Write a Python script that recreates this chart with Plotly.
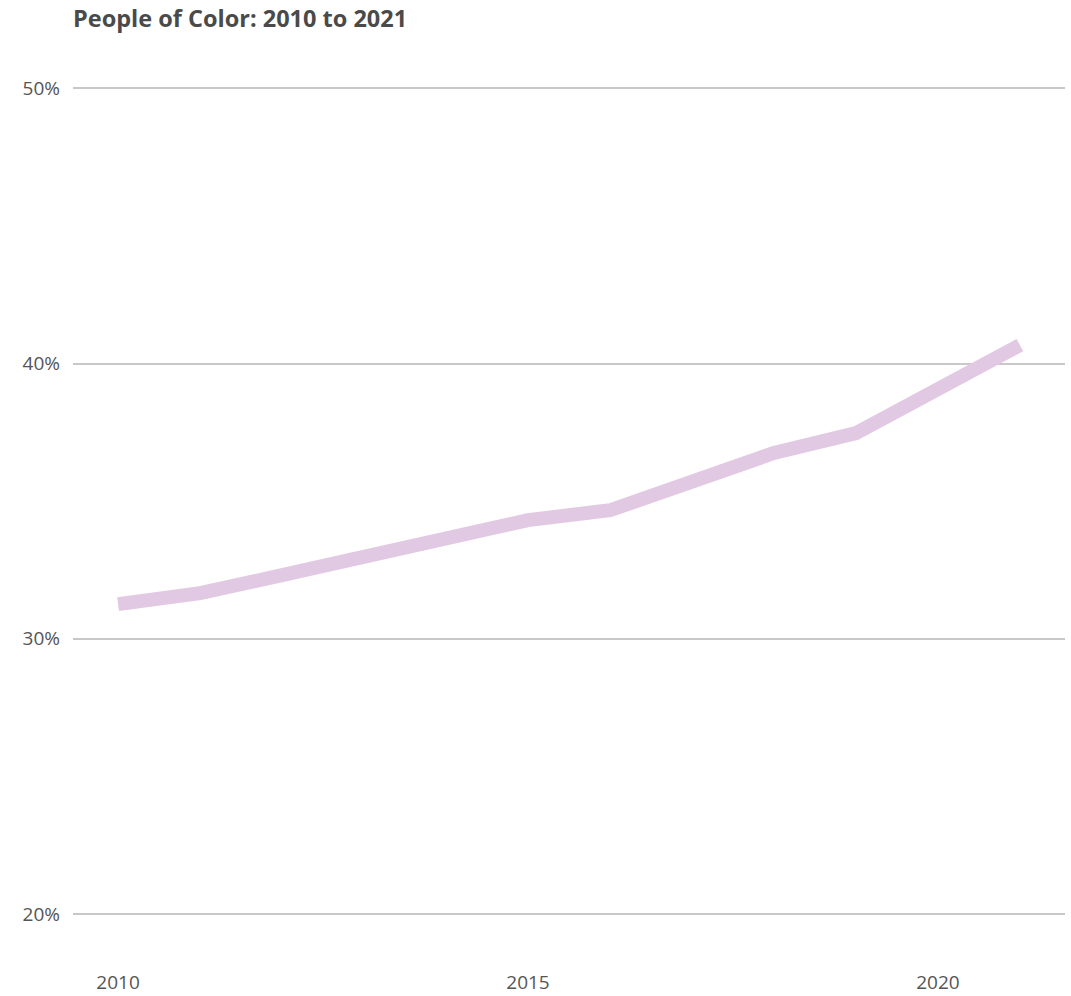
import plotly.graph_objects as go

years = [2010, 2011, 2012, 2013, 2014, 2015, 2016, 2017, 2018, 2019, 2020, 2021]
share_poc = [31.26, 31.66, 32.31, 32.97, 33.66, 34.31, 34.67, 35.73, 36.75, 37.47, 39.07, 40.67]
y_ticks = [20, 30, 40, 50]
y_tick_labels = ["20%", "30%", "40%", "50%"]
x_ticks = [2010, 2015, 2020]

fig = go.Figure()
fig.add_trace(go.Scatter(
    x=years, y=share_poc, mode="lines",
    line=dict(color="#e2c9e3", width=14),
    hoverinfo="skip", showlegend=False,
))

fig.update_layout(
    width=1071, height=996,
    margin=dict(l=73, r=6, t=80, b=31, autoexpand=False),
    paper_bgcolor="white", plot_bgcolor="white",
    title=dict(
        text="<b>People of Color: 2010 to 2021</b>",
        font=dict(family="Open Sans", size=23.5, color="#4a4a4a", weight=800),
        xref="container", x=73/1071, xanchor="left",
        yref="container", y=1 - 19/996, yanchor="middle",
    ),
    font=dict(family="Open Sans", color="#555555", size=19),
)
fig.update_xaxes(
    range=[2009.45, 2021.55], tickvals=x_ticks, showgrid=False,
    zeroline=False, showline=False, ticks="", ticklabelstandoff=4,
)
fig.update_yaxes(
    range=[18.15, 50.3], tickvals=y_ticks, ticktext=y_tick_labels,
    showgrid=True, gridcolor="#c8c8c8", gridwidth=2,
    zeroline=False, showline=False, ticks="", ticklabelstandoff=12,
)

fig.write_html(
    "out.html",
    config={"displayModeBar": False},
    post_script="document.body.style.margin='0';document.body.style.padding='0';",
)
